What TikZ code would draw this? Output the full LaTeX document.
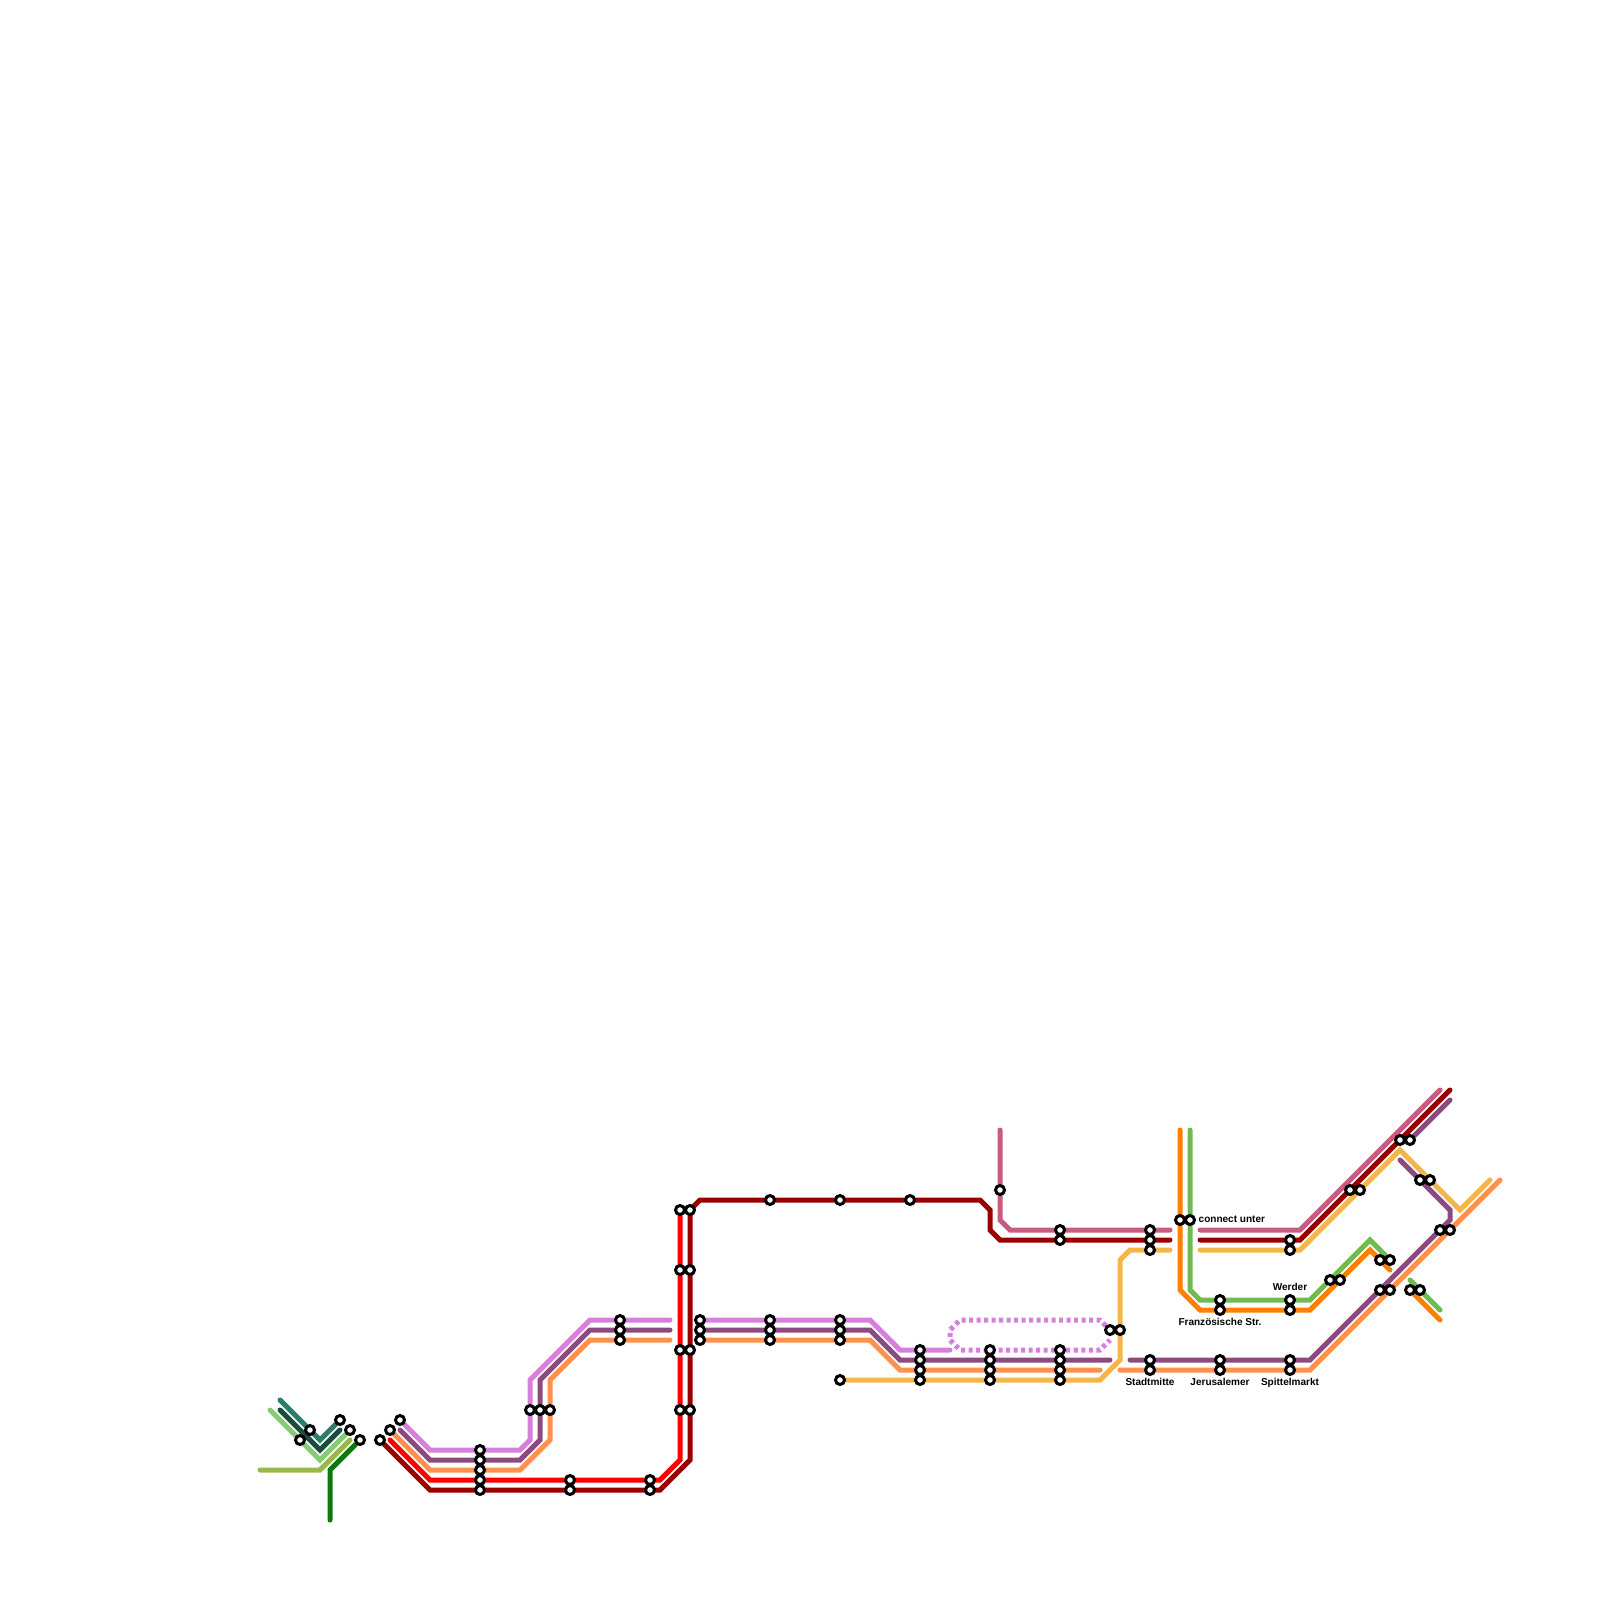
\documentclass[tikz,border=0pt]{standalone}
\usepackage{fontspec}
\setmainfont{Liberation Sans}
\usetikzlibrary{backgrounds}
\definecolor{cteal}{HTML}{2E7D6B}
\definecolor{cdgreen}{HTML}{1B4D3E}
\definecolor{clgreen}{HTML}{85CC75}
\definecolor{colive}{HTML}{9AB84A}
\definecolor{cforest}{HTML}{0A7A0A}
\definecolor{cdred}{HTML}{990000}
\definecolor{cred}{HTML}{FF0000}
\definecolor{capricot}{HTML}{FF914D}
\definecolor{cpurple}{HTML}{8B4A80}
\definecolor{cpink}{HTML}{D77FDC}
\definecolor{crose}{HTML}{C75B80}
\definecolor{cgold}{HTML}{F4B54A}
\definecolor{cfire}{HTML}{FF8000}
\definecolor{cgrass}{HTML}{6FBB4F}
\begin{document}
\begin{tikzpicture}[
		x=0.01cm, y=-0.01cm,
		st/.style = {circle,	draw=black,	fill=white,	line width=0.03cm, minimum size=0.09cm, inner sep=0pt},
		lbl/.style = {inner sep=0pt, anchor=base, font=\fontsize{2.85}{3}\selectfont\bfseries},
		m/.style = {line width=0.05cm, line cap=round}
		]
		\useasboundingbox (0, 0) rectangle (1600, 1600);
		
		%Nodes
		\node[st]	(w1)	at	(340, 1420)	{};
		\node[st]	(w2)	at	(310, 1430)	{};
		\node[st]	(w3)	at	(300, 1440)	{};
		\node[st]	(w4)	at	(350, 1430)	{};
		\node[st]	(w5)	at	(360, 1440)	{};
		
		\node[st]	(o1)	at	(380, 1440)	{};
		\node[st]	(o2)	at	(390, 1430)	{};
		\node[st]	(o3)	at	(400, 1420)	{};
		
		\node[st]	(a1)	at	(480, 1450)	{};
		\node[st]	(a2)	at	(480, 1460)	{};
		\node[st]	(a3)	at	(480, 1470)	{};
		\node[st]	(a4)	at	(480, 1480)	{};
		\node[st]	(a5)	at	(480, 1490)	{};
		\node[st]	(b1)	at	(530, 1410)	{};
		\node[st]	(b2)	at	(540, 1410)	{};
		\node[st]	(b3)	at	(550, 1410)	{};
		\node[st]	(c1)	at	(570, 1480)	{};
		\node[st]	(c2)	at	(570, 1490)	{};
		\node[st]	(d1)	at	(620, 1320)	{};
		\node[st]	(d2)	at	(620, 1330)	{};
		\node[st]	(d3)	at	(620, 1340)	{};
		\node[st]	(e1)	at	(650, 1480)	{};
		\node[st]	(e2)	at	(650, 1490)	{};
		
		\node[st]	(f1)	at	(680, 1210)	{};
		\node[st]	(f2)	at	(690, 1210)	{};
		\node[st]	(f3)	at	(680, 1270)	{};
		\node[st]	(f4)	at	(690, 1270)	{};
		\node[st]	(f5)	at	(680, 1350)	{};
		\node[st]	(f6)	at	(690, 1350)	{};
		\node[st]	(f7)	at	(680, 1410)	{};
		\node[st]	(f8)	at	(690, 1410)	{};
		
		\node[st]	(g1)	at	(700, 1320)	{};
		\node[st]	(g2)	at	(700, 1330)	{};
		\node[st]	(g3)	at	(700, 1340)	{};
		\node[st]	(h0)	at	(770, 1200)	{};
		\node[st]	(h1)	at	(770, 1320)	{};
		\node[st]	(h2)	at	(770, 1330)	{};
		\node[st]	(h3)	at	(770, 1340)	{};
		\node[st]	(i0)	at	(840, 1200)	{};
		\node[st]	(i1)	at	(840, 1320)	{};
		\node[st]	(i2)	at	(840, 1330)	{};
		\node[st]	(i3)	at	(840, 1340)	{};
		\node[st]	(i4)	at	(840, 1380)	{};
		\node[st]	(j0)	at	(910, 1200)	{};
		\node[st]	(j1)	at	(920, 1350)	{};
		\node[st]	(j2)	at	(920, 1360)	{};
		\node[st]	(j3)	at	(920, 1370)	{};
		\node[st]	(j4)	at	(920, 1380)	{};
		\node[st]	(k1)	at	(990, 1350)	{};
		\node[st]	(k2)	at	(990, 1360)	{};
		\node[st]	(k3)	at	(990, 1370)	{};
		\node[st]	(k4)	at	(990, 1380)	{};
		\node[st]	(k0)	at	(1000, 1190)	{};
		\node[st]	(l1)	at	(1060, 1350)	{};
		\node[st]	(l2)	at	(1060, 1360)	{};
		\node[st]	(l3)	at	(1060, 1370)	{};
		\node[st]	(l4)	at	(1060, 1380)	{};
		\node[st]	(l5)	at	(1060, 1230)	{};
		\node[st]	(l6)	at	(1060, 1240)	{};
		\node[st]	(q1)	at	(1110, 1330)	{};
		\node[st]	(q2)	at	(1120, 1330)	{};
		
		\node[st]	(n1)	at	(1150, 1230)	{};
		\node[st]	(n2)	at	(1150, 1240)	{};
		\node[st]	(n3)	at	(1150, 1250)	{};
		\node[st]	(n4)	at	(1150, 1360)	{};
		\node[st]	(n5)	at	(1150, 1370)	{};
		\node[st]	(p1)	at	(1180, 1220)	{};
		\node[st]	(p2)	at	(1190, 1220)	{};
		\node[st]	(r1)	at	(1220, 1300)	{};
		\node[st]	(r2)	at	(1220, 1310)	{};
		\node[st]	(r3)	at	(1220, 1360)	{};
		\node[st]	(r4)	at	(1220, 1370)	{};
		\node[st]	(u1)	at	(1290, 1240)	{};
		\node[st]	(u2)	at	(1290, 1250)	{};
		\node[st]	(u3)	at	(1290, 1300)	{};
		\node[st]	(u4)	at	(1290, 1310)	{};
		\node[st]	(u5)	at	(1290, 1360)	{};
		\node[st]	(u6)	at	(1290, 1370)	{};
		
		\node[st]	(v1)	at	(1330, 1280)	{};
		\node[st]	(v2)	at	(1340, 1280)	{};
		\node[st]	(v3)	at	(1350, 1190)	{};
		\node[st]	(v4)	at	(1360, 1190)	{};
		\node[st]	(v5)	at	(1380, 1260)	{};
		\node[st]	(v6)	at	(1390, 1260)	{};
		\node[st]	(v7)	at	(1380, 1290)	{};
		\node[st]	(v8)	at	(1390, 1290)	{};
		\node[st]	(x1)	at	(1400, 1140)	{};
		\node[st]	(x2)	at	(1410, 1140)	{};
		\node[st]	(x3)	at	(1410, 1290)	{};
		\node[st]	(x4)	at	(1420, 1290)	{};
		\node[st]	(x5)	at	(1420, 1180)	{};
		\node[st]	(x6)	at	(1430, 1180)	{};
		\node[st]	(x7)	at	(1440, 1230)	{};
		\node[st]	(x8)	at	(1450, 1230)	{};
		
		%Labels
		\node[lbl, anchor=base west]	(tconn)	at	(1198, 1222.5)	{connect unter};
		\node[lbl]	(twerd)	at	(1290, 1290)	{Werder};
		\node[lbl]	(tfran)	at	(1220, 1325)	{Französische Str.};
		\node[lbl]	(tstad)	at	(1150, 1385)	{Stadtmitte};
		\node[lbl]	(tjeru)	at	(1220, 1385)	{Jerusalemer};
		\node[lbl]	(tspit)	at	(1290, 1385)	{Spittelmarkt};
		
		%Free ends
		\coordinate	(z1)	at	(280, 1400);
		\coordinate	(z2)	at	(280, 1410);
		\coordinate	(z3)	at	(340, 1430);
		\coordinate	(z4)	at	(270, 1410);
		\coordinate	(z5)	at	(260, 1470);
		\coordinate	(z6)	at	(350, 1440);
		\coordinate	(z7)	at	(330, 1520);
		\coordinate	(z8)	at	(390, 1440);
		\coordinate	(z9)	at	(400, 1430);
		\coordinate	(y1)	at	(670, 1320);
		\coordinate	(y2)	at	(670, 1330);
		\coordinate	(y3)	at	(670, 1340);
		\coordinate	(y4)	at	(950, 1350);
		\coordinate	(y5)	at	(1110, 1360);
		\coordinate	(y6)	at	(1100, 1370);
		\coordinate	(y7)	at	(1110, 1340);
		\coordinate	(y8)	at	(1000, 1130);
		\coordinate	(y9)	at	(1170, 1230);
		\coordinate	(t1)	at	(1170, 1240);
		\coordinate	(t2)	at	(1170, 1250);
		\coordinate	(t3)	at	(1200, 1230);
		\coordinate	(t4)	at	(1200, 1240);
		\coordinate	(t5)	at	(1200, 1250);
		\coordinate	(t6)	at	(1130, 1360);
		\coordinate	(t7)	at	(1120, 1370);
		\coordinate	(t8)	at	(1180, 1130);
		\coordinate	(t9)	at	(1190, 1130);
		\coordinate	(s1)	at	(1440, 1090);
		\coordinate	(s2)	at	(1450, 1090);
		\coordinate	(s3)	at	(1450, 1100);
		\coordinate	(s4)	at	(1400, 1160);
		\coordinate	(s5)	at	(1490, 1180);
		\coordinate	(s6)	at	(1500, 1180);
		\coordinate	(s7)	at	(1440, 1320);
		\coordinate	(s8)	at	(1440, 1310);
		\coordinate	(s9)	at	(1390, 1270);
		\coordinate	(s0)	at	(1410, 1280);
		
		%Lines
		\begin{scope}[on background layer]
		\draw[m, cteal]		(z1)	--	(320, 1440)	--	(w1);
		\draw[m, cdgreen]	(z2)	--	(320, 1450)	--	(z3);
		\draw[m, clgreen]	(z4)	--	(320, 1460)	--	(w4);
		\draw[m, colive]	(z5)	--	(320, 1470)	--	(z6);
		\draw[m, cforest]	(z7)	--	(330, 1470)	--	(w5);
		
		\draw[m, cpink]		(o3)	--	(430, 1450)	--	(520, 1450)	--	(530, 1440)	--	(530, 1380)	--	(590, 1320)	--	(y1);
		\draw[m, cpurple]	(z9)	--	(430, 1460)	--	(520, 1460)	--	(540, 1440)	--	(540, 1380)	--	(590, 1330)	--	(y2);
		\draw[m, capricot]	(o2)	--	(430, 1470)	--	(520, 1470)	--	(550, 1440)	--	(550, 1380)	--	(590, 1340)	--	(y3);
		\draw[m, cred]		(z8)	--	(430, 1480)	--	(660, 1480)	--	(680, 1460)	--	(f1);
		\draw[m, cdred]		(o1)	--	(430, 1490)	--	(660, 1490)	--	(690, 1460)	--	(690, 1210)	--	(700, 1200)	--	(980, 1200)	--	(990, 1210)	--	(990, 1230)	--	(1000, 1240)	--	(t1);
		
		\draw[m, cpink]		(g1)	--	(870, 1320)	--	(900, 1350)	--	(y4);
		\draw[m, cpink, line cap=butt, dash pattern=on 0.04cm off 0.035cm]	(q1)	--	(1100, 1320)	--	(960, 1320)	--	(950, 1330)	--	(950, 1340)	--	(960, 1350)	--	(1100, 1350)	--	(y7);
		\draw[m, cpurple]	(g2)	--	(870, 1330)	--	(900, 1360)	--	(y5);
		\draw[m, capricot]	(g3)	--	(870, 1340)	--	(900, 1370)	--	(y6);
		\draw[m, cgold]		(i4)	--	(1100, 1380)	--	(1120, 1360)	--	(1120, 1260)	--	(1130, 1250)	--	(t2);
		\draw[m, crose]		(y8)	--	(1000, 1220)	--	(1010, 1230)	--	(y9);
		
		\draw[m, cfire]		(t8)	--	(1180, 1290)	--	(1200, 1310)	--	(1310, 1310)	--	(1370, 1250)	--	(s9);
		\draw[m, cgrass]	(t9)	--	(1190, 1290)	--	(1200, 1300)	--	(1310, 1300)	--	(1370, 1240)	--	(v6);
		\draw[m, cfire]		(x3)	--	(s7);
		\draw[m, cgrass]	(s0)	--	(s8);
		
		\draw[m, crose]		(t3)	--	(1300, 1230)	--	(s1);
		\draw[m, cdred]		(t4)	--	(1300, 1240)	--	(s2);
		\draw[m, cgold]		(t5)	--	(1300, 1250)	--	(1400, 1150)	--	(1460, 1210)	--	(s5);
		\draw[m, cpurple]	(s3)	--	(x2);
		\draw[m, cpurple]	(s4)	--	(1450, 1210)	--	(1450, 1220)	--	(1310, 1360)	--	(t6);
		\draw[m, capricot]	(s6)	--	(1310, 1370)	--	(t7);
		\end{scope}
	\end{tikzpicture}
\end{document}
